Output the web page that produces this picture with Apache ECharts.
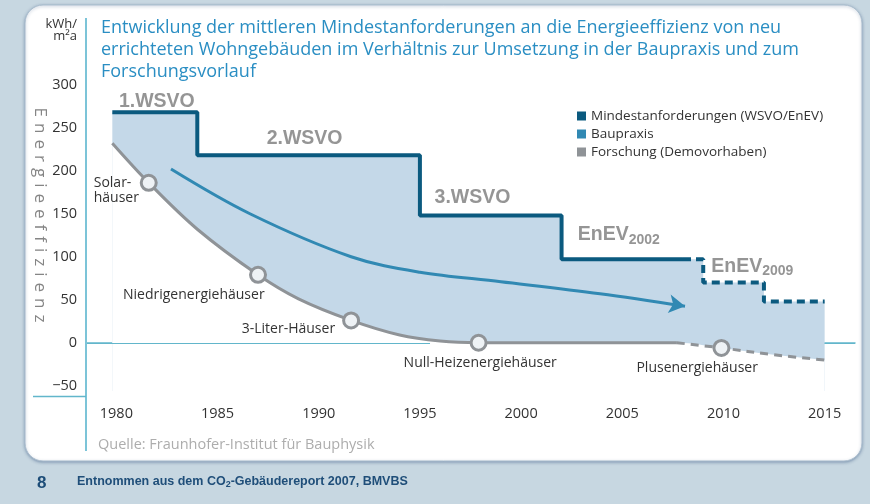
<!DOCTYPE html>
<html><head><meta charset="utf-8">
<script src="https://cdn.jsdelivr.net/npm/echarts@6/dist/echarts.min.js"></script>
<style>html,body{margin:0;padding:0;background:#c7d7e1;}#c{width:870px;height:504px;}</style>
</head><body><div id="c"></div>
<script>
// ---- data ----
const xTickYears = [1980, 1985, 1990, 1995, 2000, 2005, 2010, 2015];
const yTickValues = [-50, 0, 50, 100, 150, 200, 250, 300];

// Mindestanforderungen (step levels, value holds until next year)
const standardYears = [1979.8, 1984, 1995, 2002, 2008];
const standardValues = [268, 218, 148, 97, 97];
const plannedYears = [2008, 2009, 2012, 2015];
const plannedValues = [97, 70, 48, 48];

// Baupraxis
const praxisYears = [1982.7, 1986.6, 1991.6, 1995, 1999, 2003.9, 2008.1];
const praxisValues = [202, 150, 100, 82, 71, 57, 42.5];

// Forschung (Demovorhaben)
const researchYears = [1979.8, 1981.6, 1984, 1987, 1989, 1991.6, 1994, 1996, 1997.9, 2007.7];
const researchValues = [232, 186, 132, 79, 51, 26, 9, 2, 0, 0];
const researchFutureYears = [2007.7, 2009.9, 2012.5, 2015];
const researchFutureValues = [0, -6, -14, -20];

const markerYears = [1981.6, 1987, 1991.6, 1997.9, 2009.9];
const markerValues = [186, 79, 26, 0, -6];
const markerLabels = ['Solar-\nhäuser', 'Niedrigenergiehäuser', '3-Liter-Häuser', 'Null-Heizenergiehäuser', 'Plusenergiehäuser'];

const annotationYears = [1982.0, 1989.3, 1997.6, 2002.8, 2009.4];
const annotationValues = [280, 237, 168.5, 125.5, 88.5];
const annotationTexts = ['1.WSVO', '2.WSVO', '3.WSVO', 'EnEV|2002', 'EnEV|2009'];

const seriesNames = ['Mindestanforderungen (WSVO/EnEV)', 'Baupraxis', 'Forschung (Demovorhaben)'];
const titleText = 'Entwicklung der mittleren Mindestanforderungen an die Energieeffizienz von neu\nerrichteten Wohngebäuden im Verhältnis zur Umsetzung in der Baupraxis und zum\nForschungsvorlauf';
const yAxisName = 'Energieeffizienz';

// ---- build ----
const zip = (xs, ys) => xs.map((x, i) => [x, ys[i]]);
const standardData = zip(standardYears, standardValues);
const plannedData = zip(plannedYears, plannedValues);
const fillTop = standardData.concat(plannedData.slice(1));
const researchData = zip(researchYears, researchValues);
const researchFutureData = zip(researchFutureYears, researchFutureValues);
const researchFull = researchData.concat(researchFutureData.slice(1));
const praxisData = zip(praxisYears, praxisValues).map((p, i, a) =>
  i === a.length - 1 ? { value: p, symbol: 'arrow', symbolSize: [14, 16], symbolRotate: -99 } : p);

const navy = '#0b5a7f', blue = '#3189b3', gray = '#8f9397', fill = '#c4d8e8', teal = '#62b6cb';
const FONT = '"Open Sans", sans-serif';
const BOLD = '"Liberation Sans", Arial, sans-serif';

const markerLabelCfg = [
  { align: 'left', offset: [-55, 8] },
  { align: 'left', offset: [-135, 20] },
  { align: 'right', offset: [-16, 9] },
  { align: 'left', offset: [-75, 20] },
  { align: 'left', offset: [-85, 20] }
];

const chart = echarts.init(document.getElementById('c'));
chart.setOption({
  animation: false,
  backgroundColor: '#c7d7e1',
  textStyle: { fontFamily: FONT },
  title: {
    text: titleText, left: 96, top: 12,
    textStyle: { color: '#2a8ec3', fontSize: 18, fontWeight: 'normal', lineHeight: 22, fontFamily: FONT }
  },
  legend: {
    orient: 'vertical', left: 572, top: 104, itemWidth: 9, itemHeight: 9, itemGap: 4, icon: 'rect',
    data: seriesNames,
    textStyle: { color: '#333', fontSize: 13.5, fontFamily: FONT }
  },
  grid: { left: 86, right: 15, top: 31, bottom: 107.5 },
  xAxis: {
    type: 'value', min: 1978.5, max: 2016.5, interval: 0.5,
    axisLine: { show: true, lineStyle: { color: teal, width: 1.5 } },
    axisTick: { show: false }, splitLine: { show: false },
    axisLabel: { margin: 10, color: '#333', fontSize: 14.5, fontFamily: FONT,
      formatter: v => xTickYears.includes(v) ? String(v) : '' }
  },
  yAxis: {
    type: 'value', min: -62.5, max: 362.5, interval: 12.5,
    axisLine: { show: false }, axisTick: { show: false }, splitLine: { show: false },
    axisLabel: { margin: 9, color: '#333', fontSize: 14.5, fontFamily: FONT,
      formatter: v => yTickValues.includes(v) ? (v < 0 ? '\u2212' + Math.abs(v) : String(v)) : '' }
  },
  series: [
    { type: 'line', name: 'fillTop', data: fillTop, step: 'end', symbol: 'none', silent: true, z: 1,
      lineStyle: { width: 0, opacity: 0 }, areaStyle: { color: fill, opacity: 1, origin: -56 } },
    { type: 'line', name: 'fillBottom', data: researchFull, smooth: 0.35, symbol: 'none', silent: true, z: 1,
      lineStyle: { width: 0, opacity: 0 }, areaStyle: { color: '#ffffff', opacity: 1, origin: -56 },
      markLine: { silent: true, symbol: 'none', label: { show: false },
        lineStyle: { color: teal, width: 1, type: 'solid' },
        data: [
          [{ coord: [1978.5, 0] }, { coord: [1995.5, 0] }],
          [{ coord: [plannedYears[plannedYears.length - 1], 0] }, { coord: [2016.5, 0] }]
        ] } },
    { type: 'line', name: seriesNames[0], data: standardData, step: 'end', symbol: 'none', z: 3,
      itemStyle: { color: navy }, lineStyle: { color: navy, width: 4 } },
    { type: 'line', name: seriesNames[0], data: plannedData, step: 'end', symbol: 'none', z: 3,
      itemStyle: { color: navy }, lineStyle: { color: navy, width: 4, type: [8, 5] } },
    { type: 'line', name: seriesNames[1], data: praxisData, smooth: 0.35, symbol: 'circle', symbolSize: 0,
      showSymbol: true, z: 3, itemStyle: { color: blue }, lineStyle: { color: blue, width: 3 } },
    { type: 'line', name: seriesNames[2], data: researchData, smooth: 0.35, symbol: 'none', z: 3,
      itemStyle: { color: gray }, lineStyle: { color: gray, width: 3 } },
    { type: 'line', name: seriesNames[2], data: researchFutureData, smooth: 0.35, symbol: 'none', z: 3,
      itemStyle: { color: gray }, lineStyle: { color: gray, width: 3, type: [8, 6] } },
    { type: 'scatter', name: 'markers', z: 4, silent: true, symbol: 'circle', symbolSize: 15,
      itemStyle: { color: '#eef2f5', borderColor: gray, borderWidth: 3, opacity: 1 },
      data: markerYears.map((x, i) => ({
        value: [x, markerValues[i]],
        label: { show: true, position: 'inside', formatter: markerLabels[i], color: '#333', fontSize: 14,
          fontFamily: FONT, lineHeight: 15, align: markerLabelCfg[i].align, verticalAlign: 'middle',
          offset: markerLabelCfg[i].offset }
      })) },
    { type: 'scatter', name: 'annotations', z: 5, silent: true, symbol: 'circle', symbolSize: 1,
      itemStyle: { color: 'rgba(0,0,0,0)' },
      data: annotationYears.map((x, i) => {
        const parts = annotationTexts[i].split('|');
        return {
          value: [x, annotationValues[i]],
          label: { show: true, position: 'inside', align: parts.length > 1 ? 'left' : 'center', verticalAlign: 'middle',
            formatter: parts.length > 1 ? '{m|' + parts[0] + '}{s|' + parts[1] + '}' : '{m|' + parts[0] + '}',
            rich: {
              m: { fontFamily: BOLD, fontWeight: 'bold', fontSize: 19.5, color: '#7b7b7b' },
              s: { fontFamily: BOLD, fontWeight: 'bold', fontSize: 14, color: '#7b7b7b', padding: [10, 0, 0, 0] }
            } }
        };
      }) }
  ],
  graphic: [
    { type: 'rect', z: -100, shape: { x: 25, y: 5, width: 837, height: 456, r: 18 },
      style: { fill: '#ffffff', stroke: '#a9bccd', lineWidth: 1, shadowBlur: 3, shadowColor: 'rgba(70,100,140,0.5)', shadowOffsetY: 1 } },
    { type: 'line', z: 10, shape: { x1: 86, y1: 18, x2: 86, y2: 451 }, style: { stroke: '#7cc4d8', lineWidth: 2 } },
    { type: 'line', z: 10, shape: { x1: 33, y1: 396.5, x2: 86, y2: 396.5 }, style: { stroke: teal, lineWidth: 1.5 } },
    { type: 'text', z: 10, x: 40, y: 215, rotation: -Math.PI / 2, style: {
        text: yAxisName.split('').map(c => '{l|' + c + '}').join(''),
        align: 'center', verticalAlign: 'middle',
        rich: { l: { fill: '#858585', fontSize: 17, fontFamily: FONT, padding: [0, 3, 0, 3] } } } },
    { type: 'text', z: 10, x: 77, y: 18, style: { text: 'kWh/\nm²a', textAlign: 'right', fill: '#333', fontSize: 13, lineHeight: 12, fontFamily: FONT } },
    { type: 'text', z: 10, x: 98, y: 437, style: { text: 'Quelle: Fraunhofer-Institut für Bauphysik', fill: '#adadad', fontSize: 14.5, fontFamily: FONT } },
    { type: 'text', z: 10, x: 37, y: 475, style: { text: '8', fill: '#1d4d78', fontSize: 17, fontWeight: 'bold', fontFamily: BOLD } },
    { type: 'text', z: 10, x: 77, y: 475, style: {
        text: '{a|Entnommen aus dem CO}{s|2}{a|-Gebäudereport 2007, BMVBS}',
        rich: {
          a: { fill: '#1f4e79', fontSize: 12.5, fontWeight: 'bold', fontFamily: BOLD },
          s: { fill: '#1f4e79', fontSize: 9, fontWeight: 'bold', fontFamily: BOLD, padding: [5, 0, 0, 0] }
        } } }
  ]
});
</script></body></html>
